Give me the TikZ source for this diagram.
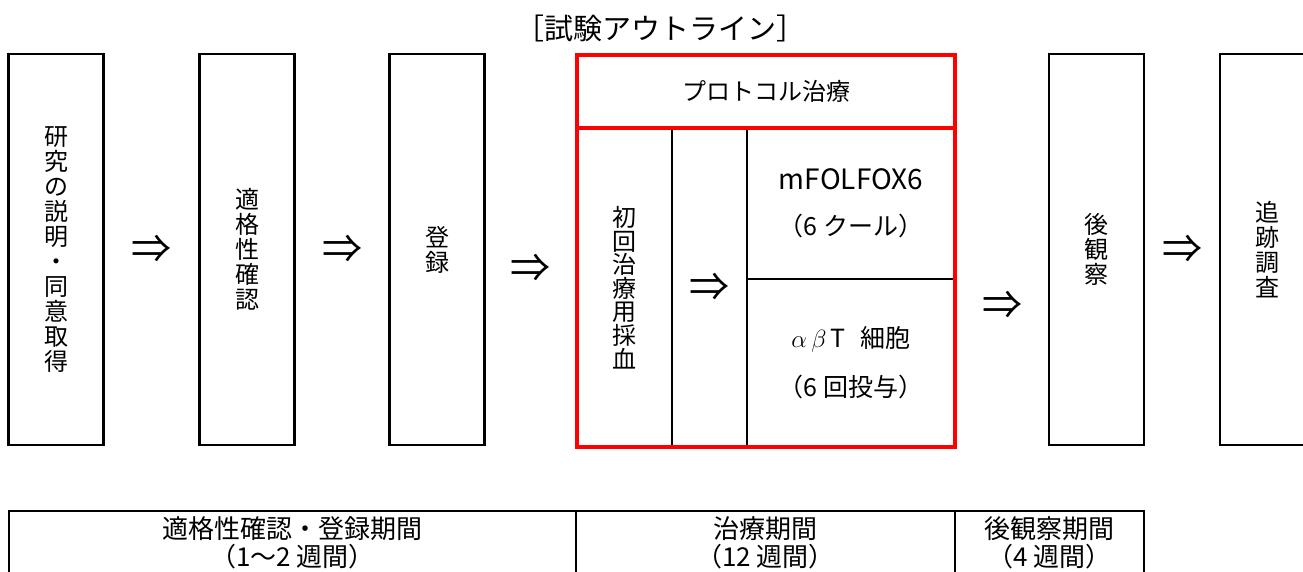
\documentclass[tikz,border=0pt]{standalone}
\usepackage{fontspec}
\setmainfont{Noto Sans CJK JP}
\usetikzlibrary{positioning}

\begin{document}
\begin{tikzpicture}[x=1pt,y=-1pt]
\tikzstyle{stage}=[rectangle, draw=black, line width=2.2pt, outer sep=0pt, inner sep=0pt, minimum width=95pt, minimum height=391pt, align=center, font=\fontsize{24}{25}\selectfont]
\tikzstyle{cell}=[rectangle, draw=black, line width=2.2pt, outer sep=0pt, inner sep=0pt, align=center, font=\fontsize{24}{24}\selectfont]
\tikzstyle{thenarrow}=[inner sep=0pt, font=\fontsize{40}{40}\selectfont]
\tikzstyle{redframe}=[draw=red, line width=3.2pt]
\tikzstyle{period}=[rectangle, draw=black, line width=2.2pt, outer sep=0pt, inner sep=0pt, minimum height=63pt, align=center, font=\fontsize{26}{28}\selectfont]
\useasboundingbox (0,0) rectangle (1303,572);
\clip (0,0) rectangle (1303,572);
  \node (title) at (660,28) {\fontsize{29}{29}\selectfont ［試験アウトライン］};
  % stages
  \node[stage] (consent) at (56,249.5) {研\\究\\の\\説\\明\\・\\同\\意\\取\\得};
  \node[stage] (check) [right =96pt of consent] {適\\格\\性\\確\\認};
  \node[stage] (entry) [right =95pt of check] {登\\録};
  \node[stage] (follow) at (1096.5,249.5) {後\\観\\察};
  \node[stage] (survey) [right =76pt of follow] {追\\跡\\調\\査};
  % protocol treatment
  \node[cell, minimum width=95pt, minimum height=319pt, font=\fontsize{24}{23.6}\selectfont] (blood) at (624.5,287.5) {初\\回\\治\\療\\用\\採\\血};
  \node[cell, minimum width=75pt, minimum height=319pt, font=\fontsize{40}{40}\selectfont] (gap) [right =0pt of blood] {⇒};
  \node[cell, minimum width=208pt, minimum height=151pt, font=\fontsize{25}{46}\selectfont] (chemo) at (851,203.5) {{\fontsize{28}{28}\selectfont mFOLFOX6}\\（6 クール）};
  \node[cell, minimum width=208pt, minimum height=168pt, font=\fontsize{25}{49}\selectfont] (cells) [below =0pt of chemo] {{\fontsize{30}{30}\selectfont$\alpha\,\beta$}\,T\hspace{0.6em}細胞\\（6 回投与）};
  \node[cell, redframe, minimum width=378pt, minimum height=73pt] (prot) at (766,91.5) {プロトコル治療};
  \draw[redframe] (prot.north west) rectangle (cells.south east);
  % arrows between stages
  \path (consent.east) -- (check.west) node[midway, thenarrow] (a1) {⇒};
  \path (check.east) -- (entry.west) node[midway, thenarrow] (a2) {⇒};
  \path (entry.east) -- (blood.west) node[midway, thenarrow] (a3) {⇒};
  \path (cells.east) -- (follow.west) node[midway, thenarrow, yshift=1pt] (a4) {⇒};
  \path (follow.east) -- (survey.west) node[midway, thenarrow] (a5) {⇒};
  % periods
  \node[period, minimum width=567pt] (p1) at (292.5,542.5) {適格性確認・登録期間\\（1～2 週間）};
  \node[period, minimum width=379pt] (p2) [right =0pt of p1] {治療期間\\（12 週間）};
  \node[period, minimum width=189pt] (p3) [right =0pt of p2] {後観察期間\\（4 週間）};
\end{tikzpicture}
\end{document}
